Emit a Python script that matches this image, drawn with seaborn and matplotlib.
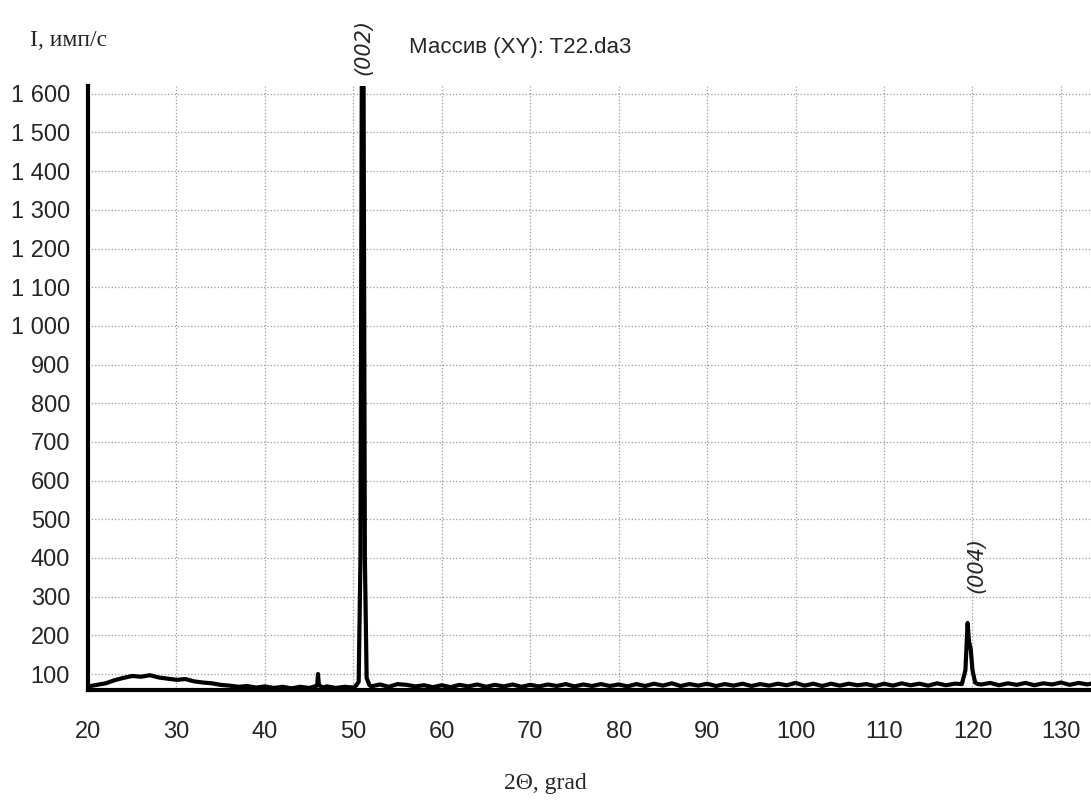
import numpy as np
import pandas as pd
import matplotlib.pyplot as plt
from matplotlib.ticker import MultipleLocator, FuncFormatter
import seaborn as sns

# XRD scan (2theta in deg, intensity in counts/s)
two_theta = [
    20, 21, 22, 23, 24, 25, 26, 27, 28, 29, 30, 31, 32, 33, 34, 35, 36, 37, 38, 39,
    40, 41, 42, 43, 44, 45, 45.5, 45.9, 46.0, 46.1, 46.5, 47, 48, 49, 50, 50.3,
    50.6, 50.8, 50.95, 51.15, 51.3, 51.5, 51.8, 52, 53, 54, 55, 56, 57, 58, 59,
    60, 61, 62, 63, 64, 65, 66, 67, 68, 69, 70, 71, 72, 73, 74, 75, 76, 77, 78, 79,
    80, 81, 82, 83, 84, 85, 86, 87, 88, 89, 90, 91, 92, 93, 94, 95, 96, 97, 98, 99,
    100, 101, 102, 103, 104, 105, 106, 107, 108, 109, 110, 111, 112, 113, 114, 115,
    116, 117, 118, 118.8, 119.2, 119.45, 119.6, 119.8, 120.0, 120.3, 120.6, 121,
    122, 123, 124, 125, 126, 127, 128, 129, 130, 131, 132, 133, 134,
]
intensity = [
    68, 72, 76, 84, 90, 95, 93, 97, 91, 88, 85, 87, 81, 78, 76, 72, 70, 67, 69, 65,
    68, 64, 67, 63, 67, 64, 67, 70, 100, 72, 65, 68, 64, 67, 65, 70,
    80, 400, 1650, 1650, 400, 90, 72, 68, 73, 67, 74, 72, 68, 71, 66,
    71, 66, 72, 68, 73, 67, 72, 68, 73, 67, 72, 68, 73, 69, 74, 68, 73, 69, 74, 69,
    73, 68, 74, 69, 75, 70, 76, 69, 74, 70, 75, 69, 74, 70, 75, 69, 74, 70, 75, 71,
    77, 70, 75, 69, 75, 70, 75, 71, 74, 69, 75, 70, 76, 71, 75, 70,
    76, 71, 75, 74, 110, 232, 185, 165, 110, 78, 74, 73,
    77, 71, 76, 72, 77, 71, 76, 73, 78, 72, 77, 73, 78,
]

df = pd.DataFrame({"two_theta": two_theta, "intensity": intensity})

sns.set_style("white")
plt.rcParams["font.family"] = ["Liberation Sans", "DejaVu Sans"]

fig = plt.figure(figsize=(10.91, 8.07), dpi=100)
ax = fig.add_axes([0.0807, 0.1456, 0.9193, 0.7478])

sns.lineplot(data=df, x="two_theta", y="intensity", ax=ax, color="black",
             linewidth=3.0, estimator=None, sort=True)

ax.set_xlim(20, 133.4)
ax.set_ylim(60, 1620)
ax.set_xlabel("")
ax.set_ylabel("")

ax.xaxis.set_major_locator(MultipleLocator(10))
ax.xaxis.set_minor_locator(MultipleLocator(2.5))
ax.yaxis.set_major_locator(MultipleLocator(100))
ax.yaxis.set_minor_locator(MultipleLocator(20))
ax.yaxis.set_major_formatter(FuncFormatter(lambda v, p: f"{int(v):,}".replace(",", " ")))

ax.grid(True, which="major", linestyle=":", color="#9a9a9a", linewidth=0.9)

for side in ["top", "right"]:
    ax.spines[side].set_visible(False)
for side in ["left", "bottom"]:
    ax.spines[side].set_color("black")
    ax.spines[side].set_linewidth(3)

ax.tick_params(axis="both", which="major", direction="out", length=10,
               width=2, color="black", labelsize=17, pad=3)
ax.tick_params(axis="both", which="minor", direction="out", length=6,
               width=1.6, color="black")
ax.tick_params(axis="x", which="major", pad=13)
ax.tick_params(axis="x", which="minor", length=8)

fig.text(0.477, 1 - 48 / 807, "Массив (XY): T22.da3", ha="center", va="center",
         fontsize=16, family="Liberation Sans")
fig.text(30 / 1091, 1 - 40 / 807, "I, имп/с", ha="left", va="center",
         fontsize=17, family="Liberation Serif")
fig.text(0.5, 1 - 783 / 807, "2Θ, grad", ha="center", va="center",
         fontsize=17, family="Liberation Serif")

# hand-written peak labels
fig.text(363 / 1091, 1 - 47 / 807, "(002)", rotation=90, ha="center", va="center",
         fontsize=15, style="italic", family="DejaVu Sans")
ax.text(120.4, 382, "(004)", rotation=90, ha="center", va="center",
        fontsize=15, style="italic", family="DejaVu Sans")

fig.savefig("out.png", dpi=100)
